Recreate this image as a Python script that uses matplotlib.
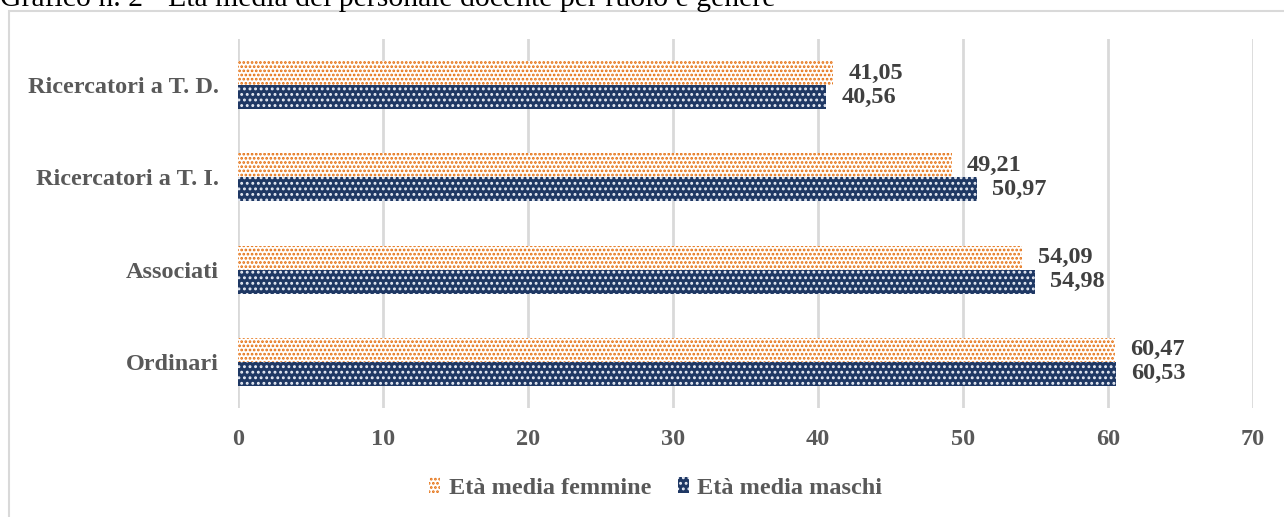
import matplotlib
matplotlib.use("Agg")
import matplotlib.pyplot as plt
import numpy as np

# dati del grafico
ruoli = ["Ordinari", "Associati", "Ricercatori a T. I.", "Ricercatori a T. D."]
eta_femmine = [60.47, 54.09, 49.21, 41.05]
eta_maschi = [60.53, 54.98, 50.97, 40.56]
x_ticks = [0, 10, 20, 30, 40, 50, 60, 70]
titolo = "Grafico n. 2 - Età media del personale docente per ruolo e genere"

plt.rcParams["font.family"] = ["Liberation Serif", "DejaVu Serif"]

ORANGE = "#E46C0A"
NAVY = "#1F3864"
GRAY = "#595959"
GRID = "#D9D9D9"

fig = plt.figure(figsize=(12.84, 5.17), dpi=100)
ax = fig.add_axes([238 / 1284, 109 / 517, 1015 / 1284, 369 / 517])

y = np.arange(len(ruoli))
h = 0.26
# lo spessore del tratteggio viene letto alla creazione di ogni barra
plt.rcParams["hatch.linewidth"] = 1.3
b_f = ax.barh(y + h / 2, eta_femmine, height=h, color="white", edgecolor=ORANGE,
              hatch="....", linewidth=0, label="Età media femmine")
b_m = ax.barh(y - h / 2, eta_maschi, height=h, color=NAVY, edgecolor="#E8ECF5",
              hatch="...", linewidth=0, label="Età media maschi")

for bars, vals in ((b_f, eta_femmine), (b_m, eta_maschi)):
    ax.bar_label(bars, labels=[f"{v:.2f}".replace(".", ",") for v in vals],
                 padding=11, fontsize=17.5, fontweight="bold", color="#404040")

ax.set_xlim(0, 70)
ax.set_ylim(-0.5, len(ruoli) - 0.5)
ax.set_xticks(x_ticks)
ax.set_yticks(y)
ax.set_yticklabels(ruoli)
ax.tick_params(axis="both", length=0, labelsize=17.5, labelcolor=GRAY)
ax.tick_params(axis="y", pad=14)
ax.tick_params(axis="x", pad=15)
for lab in ax.get_xticklabels() + ax.get_yticklabels():
    lab.set_fontweight("bold")
ax.grid(axis="x", color=GRID, linewidth=2)
ax.set_axisbelow(True)
for s in ax.spines.values():
    s.set_visible(False)

leg = fig.legend(handles=[b_f, b_m], loc="center", bbox_to_anchor=(656 / 1284, 1 - 488 / 517),
                 ncol=2, frameon=False, handlelength=0.45, handleheight=0.6,
                 handletextpad=0.35, columnspacing=1.1,
                 prop={"size": 17.5, "weight": "bold"})
for t in leg.get_texts():
    t.set_color(GRAY)

# cornice del grafico
fig.add_artist(plt.Rectangle((9 / 1284, -0.1), 1.2, 1.1 - 11 / 517,
                             transform=fig.transFigure, fill=False,
                             edgecolor=GRID, linewidth=1.5))

fig.text(0, 1 - 6 / 517, titolo, fontsize=21.4, color="black", va="baseline", ha="left")

fig.savefig("out.png", dpi=100)
